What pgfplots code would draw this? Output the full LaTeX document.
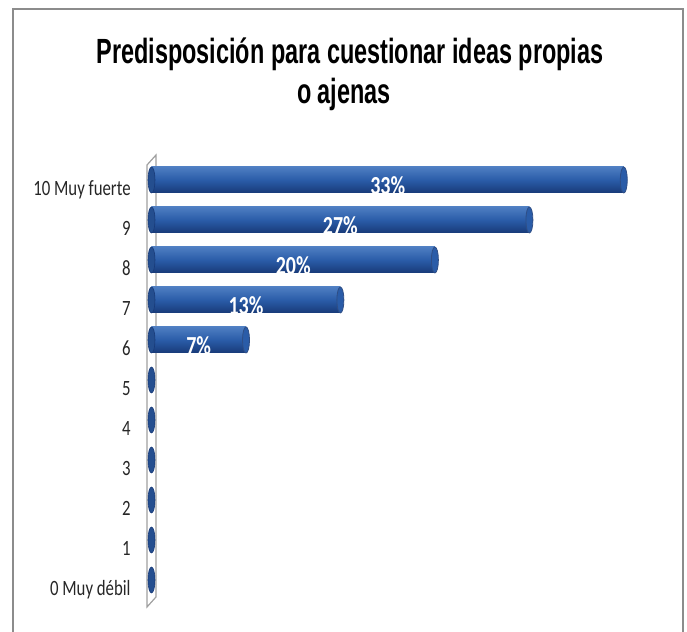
\documentclass[border=0pt]{standalone}
\usepackage{fontspec}
\setmainfont{Carlito}[FakeStretch=0.77]
\newfontfamily\titlefont{Liberation Sans}[FakeStretch=0.67]
\usepackage{pgfplots}
\pgfplotsset{compat=1.18}

\definecolor{barlight}{RGB}{78,126,194}
\definecolor{barmid}{RGB}{42,92,168}
\definecolor{bardark}{RGB}{24,58,120}
\definecolor{wallgray}{RGB}{160,160,160}
\definecolor{framegray}{RGB}{140,140,140}

% end of a cylinder bar
\pgfdeclareplotmark{cylcap}{%
  \pgfpathellipse{\pgfpointorigin}{\pgfqpoint{1.75pt}{0pt}}{\pgfqpoint{0pt}{6.5pt}}%
  \pgfusepathqfillstroke}

\pgfplotsset{cylbar/.style={xbar, bar width=13pt, bar shift=0pt, draw=none,
    top color=barlight, bottom color=bardark, middle color=barmid}}

\begin{document}
\begin{tikzpicture}[x=1pt, y=1pt]
\useasboundingbox (-75.75,-26) rectangle (267.75,290);

% chart frame
\draw[framegray, line width=1pt] (-69,-30) -- (-69,285.5) -- (265.75,285.5) -- (265.75,-30);

% title
\node[anchor=base, inner sep=0pt] at (99.25,258.35)
  {\titlefont\bfseries\fontsize{17.5}{20}\selectfont Predisposición para cuestionar ideas propias};
\node[anchor=base, inner sep=0pt] at (96.25,238.35)
  {\titlefont\bfseries\fontsize{17.5}{20}\selectfont o ajenas};

% 3d wall
\draw[wallgray, line width=0.6pt] (-2.25,-13.5) -- (-2.25,207.5) -- (2.25,212.5) -- (2.25,-8.5) -- cycle;

\begin{axis}[
    anchor=origin, at={(0,0)},
    x=7.085pt, y=20pt,
    xmin=0, xmax=35,
    ymin=-0.65, ymax=10.65,
    hide x axis,
    y axis line style={draw=none},
    ytick={0,...,10},
    yticklabels={0 Muy débil,1,2,3,4,5,6,7,8,9,10 Muy fuerte},
    ytick style={draw=none},
    major tick length=0pt,
    yticklabel style={anchor=base east, inner sep=0pt, xshift=-10.25pt, yshift=-8pt,
        font=\fontsize{10.9}{13}\selectfont, text=black!85},
    clip=false,
]

% left ends, every category
\addplot[only marks, mark=cylcap, mark options={fill=barmid!85!black, draw=bardark, line width=0.3pt}]
    coordinates {(0,0) (0,1) (0,2) (0,3) (0,4) (0,5) (0,6) (0,7) (0,8) (0,9) (0,10)};

% one plot per bar so each gets its own shading
\addplot[cylbar] coordinates {(33.33,10)};
\addplot[cylbar] coordinates {(26.67,9)};
\addplot[cylbar] coordinates {(20,8)};
\addplot[cylbar] coordinates {(13.33,7)};
\addplot[cylbar] coordinates {(6.67,6)};

% right ends
\addplot[only marks, mark=cylcap, mark options={fill=barmid, draw=bardark!90, line width=0.4pt}]
    coordinates {(33.33,10) (26.67,9) (20,8) (13.33,7) (6.67,6)};

% labels
\addplot[draw=none, mark=none, point meta=explicit symbolic, nodes near coords,
    every node near coord/.append style={anchor=center, text=white, inner sep=0pt, yshift=-3pt,
        font=\bfseries\fontsize{13}{15}\selectfont}]
    coordinates {(16.67,10) [33\%] (13.33,9) [27\%] (10,8) [20\%] (6.67,7) [13\%] (3.33,6) [7\%]};

\end{axis}
\end{tikzpicture}
\end{document}
